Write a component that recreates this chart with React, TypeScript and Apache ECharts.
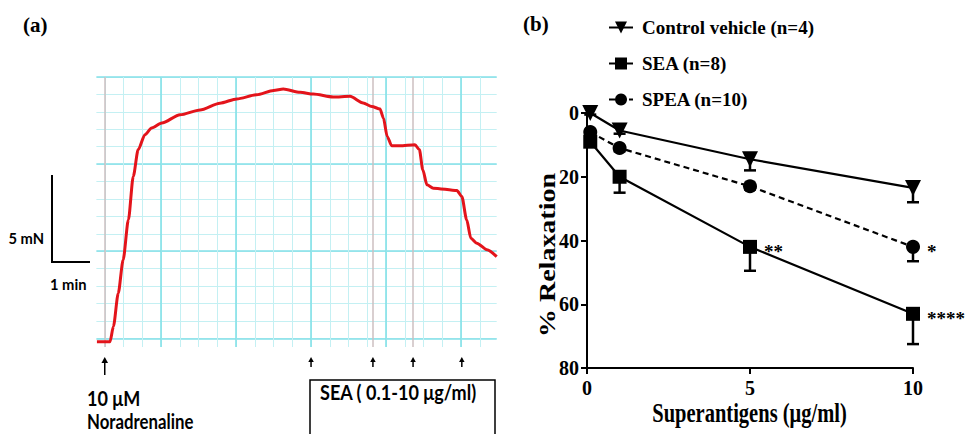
import React, { useEffect, useRef } from "react";
import * as echarts from "echarts";

// ---------- Panel (a): tension trace ----------
const traceMinutes = [0.29, 0.64, 0.73, 0.86, 0.99, 1.13, 1.26, 1.39, 1.57, 1.75, 2.02, 2.51, 3.04, 3.57, 4.02, 4.55, 5.0, 5.26, 5.71, 6.06, 6.59, 7.04, 7.39, 7.62, 7.84, 7.93, 8.03, 8.15, 8.37, 8.77, 8.89, 8.98, 9.09, 9.26, 9.89, 10.02, 10.15, 10.26, 10.42, 10.69, 10.95];
const traceTension = [-0.2, -0.2, 0.67, 2.59, 4.5, 6.8, 9.29, 10.82, 11.68, 12.07, 12.36, 12.83, 13.11, 13.5, 13.74, 13.98, 14.23, 14.31, 14.12, 14.02, 13.85, 13.89, 13.51, 13.31, 13.16, 12.64, 11.59, 11.05, 11.05, 11.11, 10.82, 9.67, 8.81, 8.62, 8.48, 8.14, 6.8, 5.75, 5.46, 5.08, 4.69];
const eventLineMinutes = [0.5, 7.65, 8.72];
const noradrenalineMinute = 0.5;
const seaAdditionMinutes = [6.0, 7.65, 8.72, 10.02];
const TRACE_MAX_MN = 15; // top of chart paper

// ---------- Panel (b): concentration-response ----------
const doses = [0.1, 1, 5, 10];
const controlMean = [0, 5.5, 14.5, 23.5];
const controlErr = [0.5, 1, 3.5, 4.5];
const seaMean = [9, 20, 42, 63];
const seaErr = [1.5, 5, 7.5, 9.5];
const speaMean = [6, 11, 23, 42];
const speaErr = [1, 1, 1, 4.5];
const seaStars = ["", "", "**", "****"];
const speaStars = ["", "", "", "*"];
const xTicksB = [0, 5, 10];
const yTicksB = [0, 20, 40, 60, 80];

const SERIF = "'Liberation Serif', 'Times New Roman', serif";
const SANS = "Lato, 'Open Sans', sans-serif";
const MINOR = "#c4f0f3";
const MAJOR = "#84e1e8";

function withStars(means: number[], stars: string[]) {
  return doses.map((d, i) =>
    stars[i]
      ? {
          value: [d, means[i]],
          label: {
            show: true,
            formatter: stars[i],
            position: "right",
            distance: 7,
            offset: [0, 5],
            fontFamily: SERIF,
            fontWeight: "bold",
            fontSize: 19,
            color: "#000",
          },
        }
      : { value: [d, means[i]] }
  );
}

function errorSeries(name: string, means: number[], errs: number[]) {
  return {
    type: "custom",
    name,
    xAxisIndex: 2,
    yAxisIndex: 2,
    z: 1,
    encode: { x: 0, y: 1 },
    data: doses.map((d, i) => [d, means[i], errs[i]]),
    renderItem: (params: any, api: any) => {
      const x = api.value(0);
      const m = api.value(1);
      const e = api.value(2);
      const p1 = api.coord([x, m]);
      const p2 = api.coord([x, m + e]);
      const st = { stroke: "#000", lineWidth: 2.5 };
      return {
        type: "group",
        children: [
          { type: "line", shape: { x1: p1[0], y1: p1[1], x2: p2[0], y2: p2[1] }, style: st },
          { type: "line", shape: { x1: p2[0] - 6, y1: p2[1], x2: p2[0] + 6, y2: p2[1] }, style: st },
        ],
      };
    },
  };
}

export default function App() {
  const ref = useRef<HTMLDivElement>(null);
  useEffect(() => {
    if (!ref.current) return;
    const chart = echarts.init(ref.current, undefined, { renderer: "svg" });
    const gridAxis = (interval: number, color: string, width: number, extra: any) => ({
      type: "value",
      gridIndex: 0,
      interval,
      axisLine: { show: false },
      axisTick: { show: false },
      axisLabel: { show: false },
      splitLine: { show: true, showMaxLine: false, lineStyle: { color, width } },
      ...extra,
    });
    const option: any = {
      animation: false,
      backgroundColor: "#fff",
      grid: [
        { left: 86, right: 471.3, top: 77, bottom: 87 },
        { left: 587, right: 55, top: 113, bottom: 66 },
      ],
      xAxis: [
        gridAxis(0.5, MINOR, 1, { min: 0, max: 10.95 }),
        gridAxis(2, MAJOR, 1.6, { min: 0, max: 10.95, position: "top" }),
        {
          type: "value",
          gridIndex: 1,
          min: xTicksB[0],
          max: xTicksB[xTicksB.length - 1],
          interval: xTicksB[1] - xTicksB[0],
          axisLine: { onZero: false, lineStyle: { color: "#000", width: 2 } },
          axisTick: { show: true, length: 6, lineStyle: { color: "#000", width: 2 } },
          axisLabel: { fontFamily: SERIF, fontWeight: "bold", fontSize: 20, color: "#000", margin: 10 },
          splitLine: { show: false },
        },
      ],
      yAxis: [
        gridAxis(1, MINOR, 1, { min: 0, max: TRACE_MAX_MN + 0.5, inverse: true }),
        gridAxis(5, MAJOR, 1.6, { min: 0, max: TRACE_MAX_MN + 0.5, inverse: true, position: "right" }),
        {
          type: "value",
          gridIndex: 1,
          inverse: true,
          min: yTicksB[0],
          max: yTicksB[yTicksB.length - 1],
          interval: yTicksB[1] - yTicksB[0],
          axisLine: { show: true, onZero: false, lineStyle: { color: "#000", width: 2 } },
          axisTick: { show: true, length: 6, lineStyle: { color: "#000", width: 2 } },
          axisLabel: { fontFamily: SERIF, fontWeight: "bold", fontSize: 20, color: "#000", margin: 8 },
          splitLine: { show: false },
        },
      ],
      legend: {
        orient: "vertical",
        left: 603,
        top: 13,
        itemWidth: 24,
        itemHeight: 15,
        itemGap: 17,
        textStyle: { fontFamily: SERIF, fontSize: 19, fontWeight: "bold", color: "#000", padding: [0, 0, 0, 4] },
        data: ["Control vehicle (n=4)", "SEA (n=8)", "SPEA (n=10)"],
      },
      series: [
        {
          type: "line",
          name: "trace",
          xAxisIndex: 0,
          yAxisIndex: 0,
          data: traceMinutes.map((m, i) => [m, TRACE_MAX_MN - traceTension[i]]),
          showSymbol: false,
          smooth: 0.25,
          smoothMonotone: "x",
          lineStyle: { color: "#e3141b", width: 3 },
          z: 3,
          markLine: {
            silent: true,
            symbol: "none",
            label: { show: false },
            lineStyle: { color: "#cdbfc0", width: 1.5, type: "solid" },
            data: eventLineMinutes.map((v) => ({ xAxis: v })),
            z: 2,
          },
        },
        errorSeries("err-control", controlMean, controlErr),
        errorSeries("err-sea", seaMean, seaErr),
        errorSeries("err-spea", speaMean, speaErr),
        {
          type: "line",
          name: "Control vehicle (n=4)",
          xAxisIndex: 2,
          yAxisIndex: 2,
          data: doses.map((d, i) => [d, controlMean[i]]),
          symbol: "triangle",
          symbolRotate: 180,
          symbolSize: 16,
          lineStyle: { color: "#000", width: 2.2 },
          itemStyle: { color: "#000" },
          z: 3,
        },
        {
          type: "line",
          name: "SEA (n=8)",
          xAxisIndex: 2,
          yAxisIndex: 2,
          data: withStars(seaMean, seaStars),
          symbol: "rect",
          symbolSize: 14,
          lineStyle: { color: "#000", width: 2.2 },
          itemStyle: { color: "#000" },
          z: 3,
        },
        {
          type: "line",
          name: "SPEA (n=10)",
          xAxisIndex: 2,
          yAxisIndex: 2,
          data: withStars(speaMean, speaStars),
          symbol: "circle",
          symbolSize: 14,
          lineStyle: { color: "#000", width: 2.2, type: [6, 4] },
          itemStyle: { color: "#000" },
          z: 3,
        },
      ],
    };
    chart.setOption(option);

    const px = (m: number) => chart.convertToPixel({ xAxisIndex: 0 } as any, m) as unknown as number;
    const x0 = px(0);
    const xStart = px(traceMinutes[0]);
    const txt = (text: string, x: number, y: number, font: string, size: number, align: string, sx = 1, sy = 1, rot = 0) => ({
      type: "text",
      x,
      y,
      scaleX: sx,
      scaleY: sy,
      rotation: rot,
      z: 20,
      style: { text, fontFamily: font, fontSize: size, fontWeight: "bold", fill: "#000", align, verticalAlign: "middle" },
    });
    const arrow = (x: number, yTop: number, yBot: number, head: number) => [
      { type: "line", z: 20, shape: { x1: x, y1: yTop + 2, x2: x, y2: yBot }, style: { stroke: "#000", lineWidth: 1.5 } },
      { type: "polygon", z: 20, shape: { points: [[x - head * 0.55, yTop + head], [x, yTop], [x + head * 0.55, yTop + head]] }, style: { fill: "#000" } },
    ];
    const graphics: any[] = [
      { type: "rect", z: 10, shape: { x: x0 - 1, y: 74, width: xStart - x0 + 0.5, height: 276 }, style: { fill: "#fff" } },
      txt("(a)", 23, 25, SERIF, 21, "left"),
      txt("(b)", 523, 24, SERIF, 21, "left"),
      { type: "polyline", z: 20, shape: { points: [[52, 175], [52, 262], [90, 262]] }, style: { stroke: "#000", lineWidth: 2, fill: "none" } },
      txt("5 mN", 44, 237.5, SANS, 16, "right", 0.92),
      txt("1 min", 50, 283.5, SANS, 16, "left", 0.92),
      ...arrow(px(noradrenalineMinute), 357, 375, 6),
      ...seaAdditionMinutes.flatMap((m) => arrow(px(m), 357, 367, 5)),
      txt("10 μM", 87, 397.5, SANS, 21, "left", 0.86),
      txt("Noradrenaline", 87, 421.5, SANS, 20, "left", 0.84),
      { type: "rect", z: 20, shape: { x: 310, y: 380, width: 185, height: 70 }, style: { stroke: "#000", lineWidth: 1.5, fill: "none" } },
      txt("SEA ( 0.1-10 μg/ml)", 320, 392, SANS, 21, "left", 0.86),
      txt("% Relaxation", 547.5, 255, SERIF, 28, "center", 1, 0.8, Math.PI / 2),
      txt("Superantigens (μg/ml)", 749.5, 413, SERIF, 27, "center", 0.76),
    ];
    chart.setOption({ graphic: graphics });
    return () => chart.dispose();
  }, []);
  return <div ref={ref} style={{ width: 968, height: 434, position: "absolute", left: 0, top: 0 }} />;
}
